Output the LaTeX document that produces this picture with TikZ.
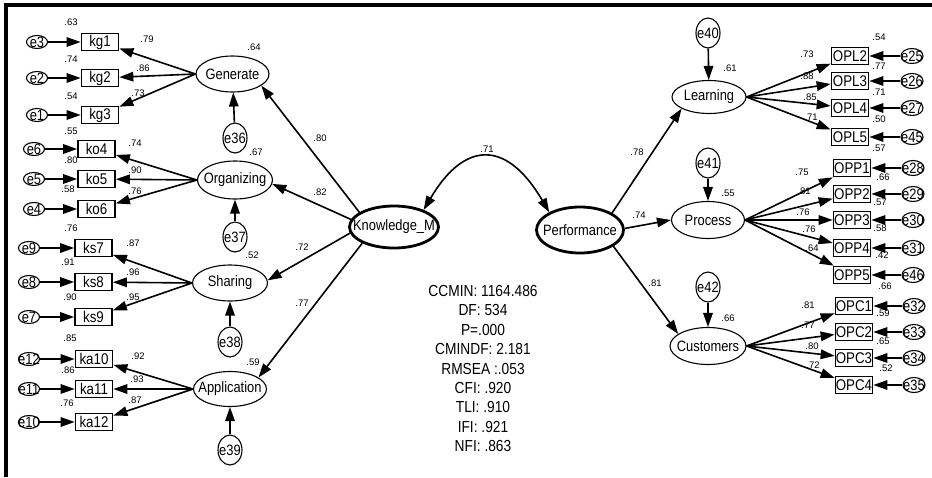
\documentclass[tikz,border=0pt]{standalone}
\usepackage{fontspec}
\setmainfont{Liberation Sans}
\newfontfamily\cnd{Liberation Sans}[FakeStretch=0.86]
\usetikzlibrary{arrows.meta,shapes.geometric}
\begin{document}
\begin{tikzpicture}[x=1pt,y=-1pt,
  arr/.style={line width=1.6pt,-{Triangle[length=14pt,width=9.5pt]}},
  box/.style={draw,line width=1.7pt,minimum width=37pt,minimum height=17pt,inner sep=0pt,font=\cnd\fontsize{15.5}{15.5}\selectfont},
  lat/.style={ellipse,draw,line width=1.1pt,inner sep=0pt,label={[font=\cnd\fontsize{15}{15}\selectfont,inner sep=0pt]center:#1}},
  latb/.style={lat=#1,line width=2.8pt},
  errh/.style={ellipse,draw,line width=1.1pt,inner sep=0pt,minimum width=21pt,minimum height=13pt,label={[font=\cnd\fontsize{15}{15}\selectfont,inner sep=0pt]center:#1}},
  errr/.style={errh=#1,minimum width=22pt,minimum height=15pt},
  errv/.style={errh=#1,minimum width=24pt,minimum height=30pt},
  lab/.style={font=\fontsize{9.5}{9.5}\selectfont,inner sep=0pt},
  stats/.style={align=center,inner sep=0pt,font=\cnd\fontsize{16}{19.4}\selectfont}]
\useasboundingbox (0,0) rectangle (932,477);
\draw[line width=3.5pt] (6,477) -- (6,5) -- (932,5);

% indicators
\foreach \n/\x/\y in {kg1/100/42,kg2/100/78,kg3/100/115,ko4/96.5/149,ko5/96.5/179,ko6/96.5/209,
  ks7/93.5/248,ks8/93.5/282,ks9/93.5/317,ka10/94/359,ka11/94/389,ka12/94/422,
  OPL2/850/56,OPL3/850/81,OPL4/850/108,OPL5/850/137,
  OPP1/852/168,OPP2/852/194,OPP3/852/220,OPP4/852/248,OPP5/852/275,
  OPC1/854/306,OPC2/854/332,OPC3/854/358,OPC4/854/385}
  \node[box] (\n) at (\x,\y) {\n};

% errors (left)
\foreach \n/\x/\y in {e3/37/42,e2/37/78,e1/37/115,e6/34/149,e5/34/179,e4/34/209,
  e9/29/248,e8/29/282,e7/29/317,e12/29/359,e11/29/389,e10/29/422}
  \node[errh=\n] (\n) at (\x,\y) {};
% errors (right)
\foreach \n/\x/\y in {e25/912/56,e26/912/81,e27/912/108,e45/912/137,
  e28/913/168,e29/913/194,e30/913/220,e31/913/248,e46/913/275,
  e32/914/306,e33/914/332,e34/914/358,e35/914/385}
  \node[errr=\n] (\n) at (\x,\y) {};
% disturbances
\foreach \n/\x/\y in {e36/235/138,e37/235/237,e38/230/342,e39/230/450,e40/708/33,e41/708/163,e42/708/287}
  \node[errv=\n] (\n) at (\x,\y) {};

% latent
\node[lat=Generate,minimum width=73pt,minimum height=36pt] (gen) at (232.5,74) {};
\node[lat=Organizing,minimum width=75pt,minimum height=38pt] (org) at (235,180) {};
\node[lat=Sharing,minimum width=75pt,minimum height=36pt] (sha) at (230,283) {};
\node[lat=Application,minimum width=73pt,minimum height=35pt] (app) at (230,389) {};
\node[latb=Knowledge\_M,minimum width=89pt,minimum height=42pt] (km) at (394,227) {};
\node[latb=Performance,minimum width=87pt,minimum height=46pt] (perf) at (580,230) {};
\node[lat=Learning,minimum width=74pt,minimum height=33pt] (learn) at (709,97) {};
\node[lat=Process,minimum width=73pt,minimum height=37pt] (proc) at (708,220) {};
\node[lat=Customers,minimum width=76pt,minimum height=37pt] (cust) at (708,346) {};

% error -> indicator
\foreach \e/\b in {e3/kg1,e2/kg2,e1/kg3,e6/ko4,e5/ko5,e4/ko6,e9/ks7,e8/ks8,e7/ks9,e12/ka10,e11/ka11,e10/ka12,
  e25/OPL2,e26/OPL3,e27/OPL4,e45/OPL5,e28/OPP1,e29/OPP2,e30/OPP3,e31/OPP4,e46/OPP5,
  e32/OPC1,e33/OPC2,e34/OPC3,e35/OPC4}
  \draw[arr] (\e) -- (\b);

% latent -> indicator
\foreach \l/\b in {gen/kg1,gen/kg2,gen/kg3,org/ko4,org/ko5,org/ko6,sha/ks7,sha/ks8,sha/ks9,app/ka10,app/ka11,app/ka12}
  \draw[arr] (\l.west) -- (\b);
\foreach \l/\b in {learn/OPL2,learn/OPL3,learn/OPL4,learn/OPL5,proc/OPP1,proc/OPP2,proc/OPP3,proc/OPP4,proc/OPP5,
  cust/OPC1,cust/OPC2,cust/OPC3,cust/OPC4}
  \draw[arr] (\l.east) -- (\b);

% disturbances -> latent
\foreach \e/\l in {e36/gen,e37/org,e38/sha,e39/app,e40/learn,e41/proc,e42/cust}
  \draw[arr] (\e) -- (\l);

% second order
\foreach \a/\l/\b in {157/gen/338,170/org/354,188/sha/4,207/app/22} \draw[arr] (km.\a) -- (\l.\b);
\foreach \a/\l/\b in {28/learn/203,2/proc/180,334/cust/158} \draw[arr] (perf.\a) -- (\l.\b);

% covariance
\draw[line width=1.6pt,{Triangle[length=14pt,width=9.5pt]}-{Triangle[length=14pt,width=9.5pt]}]
  (km.30) .. controls (465,140) and (507,140) .. (perf.150);

% coefficient labels
\foreach \t/\x/\y [count=\i] in {.63/71/22,.74/71/59,.54/71/96,.79/147/39,.86/143/68,.73/138/93,.64/254/47,
  .55/71/131,.80/71/160,.58/68/189,.74/135/143,.90/135/170,.76/135/191,.67/256/152,
  .76/71/228,.87/133/243,.91/68/262,.96/133/272,.90/70/297,.95/133/297,.52/252/255,.72/302/247,
  .85/70/338,.92/138/356,.86/68/370,.93/137/379,.76/67/403,.87/135/400,.59/253/362,.77/302/303,
  .80/320/138,.82/320/192,.71/487/149,
  .78/637/152,.74/639/215,.81/655/283,.61/730/68,.55/728/193,.66/728/318,
  .73/807/54,.88/807/76,.85/810/97,.71/811/117,
  .54/879/37,.77/879/66,.71/879/92,.50/879/119,.57/879/148,
  .75/802/172,.81/804/191,.76/803/212,.76/809/229,.64/812/248,
  .66/883/177,.57/880/202,.58/880/228,.42/882/255,.66/885/286,
  .81/808/305,.77/808/325,.80/812/346,.72/813/365,
  .59/883/313,.65/883/341,.52/886/368}
  \node[lab] (r\i) at (\x,\y) {\t};

\node[stats] (fit) at (483,368.5) {CCMIN: 1164.486\\DF: 534\\P=.000\\CMINDF: 2.181\\RMSEA :.053\\CFI: .920\\TLI: .910\\IFI: .921\\NFI: .863};
\end{tikzpicture}
\end{document}
